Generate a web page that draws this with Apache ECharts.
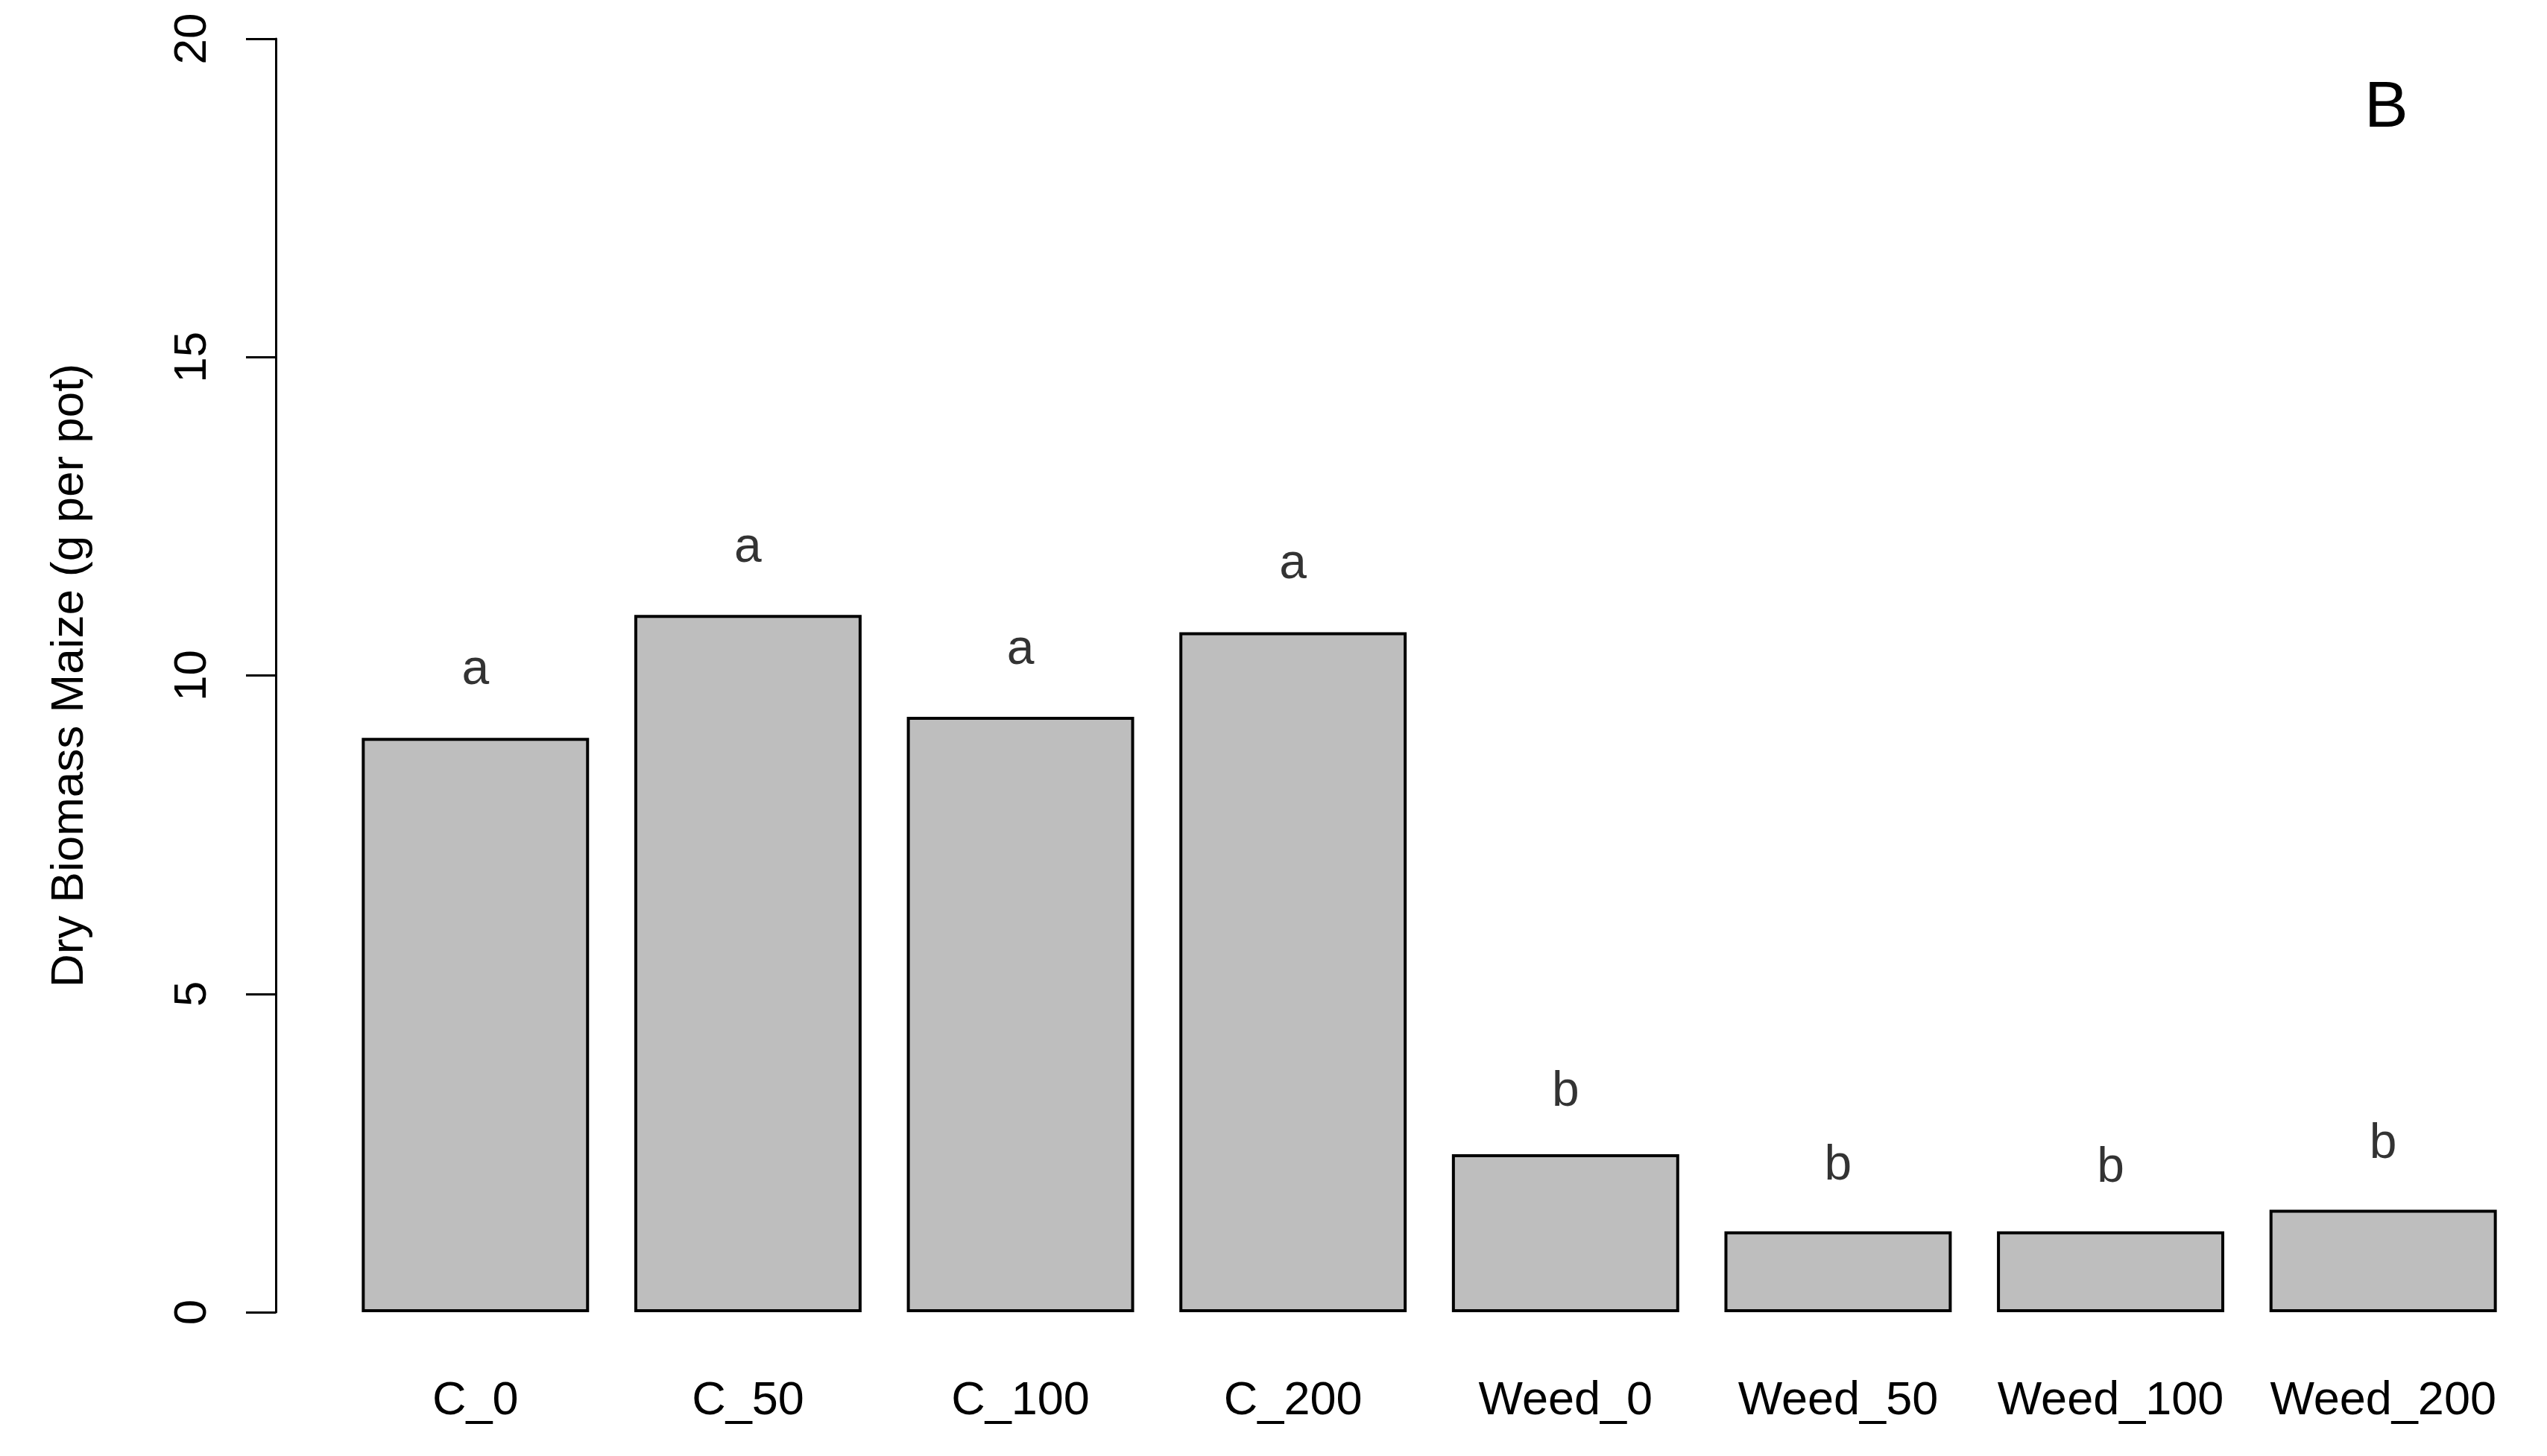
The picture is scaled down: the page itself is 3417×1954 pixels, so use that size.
<!DOCTYPE html>
<html>
<head>
<meta charset="utf-8">
<script src="https://cdn.jsdelivr.net/npm/echarts@6/dist/echarts.min.js"></script>
<style>
html,body{margin:0;padding:0;background:#fff;}
#chart{width:3417px;height:1954px;}
</style>
</head>
<body>
<div id="chart"></div>
<script>
const categories = ['C_0','C_50','C_100','C_200','Weed_0','Weed_50','Weed_100','Weed_200'];
const biomass = [9.02, 10.95, 9.35, 10.68, 2.48, 1.27, 1.27, 1.61];
const letters = ['a','a','a','a','b','b','b','b'];
const letterY = [10.08, 12.0, 10.39, 11.74, 3.45, 2.30, 2.26, 2.63];
const yTicks = [0, 5, 10, 15, 20];
const panelLabel = 'B';
const yTitle = 'Dry Biomass Maize (g per pot)';

const FONT = '"Liberation Sans", Arial, sans-serif';
const chart = echarts.init(document.getElementById('chart'), null, {renderer:'canvas'});
chart.setOption({
  animation: false,
  backgroundColor: '#ffffff',
  title: {
    text: panelLabel,
    left: 3167, top: 97,
    textStyle: {fontFamily: FONT, fontSize: 88, fontWeight: 'normal', color: '#000'}
  },
  grid: {left: 455, right: 37, top: 52, bottom: 193, containLabel: false},
  xAxis: {
    type: 'category',
    data: categories,
    axisLine: {show: false},
    axisTick: {show: false},
    axisLabel: {fontFamily: FONT, fontSize: 63, color: '#000', margin: 88, interval: 0}
  },
  yAxis: {
    type: 'value',
    min: yTicks[0], max: yTicks[yTicks.length-1], interval: 5,
    offset: 85,
    name: yTitle,
    nameLocation: 'middle',
    nameGap: 245,
    nameRotate: 90,
    nameTextStyle: {fontFamily: FONT, fontSize: 62, color: '#000'},
    axisLine: {show: true, lineStyle: {color: '#000', width: 3}},
    axisTick: {show: true, length: 40, lineStyle: {color: '#000', width: 3}},
    axisLabel: {rotate: 90, fontFamily: FONT, fontSize: 62, color: '#000', margin: 80},
    splitLine: {show: false}
  },
  series: [
    {
      type: 'bar',
      data: biomass,
      barCategoryGap: '16.6%',
      itemStyle: {color: '#bebebe', borderColor: '#000', borderWidth: 4},
      silent: true
    },
    {
      type: 'scatter',
      data: letterY.map((v, i) => [i, v]),
      symbolSize: 0,
      silent: true,
      label: {
        show: true,
        position: 'inside',
        formatter: p => letters[p.dataIndex],
        fontFamily: FONT, fontSize: 66, color: '#000',
        textBorderWidth: 0
      }
    }
  ]
});
</script>
</body>
</html>
